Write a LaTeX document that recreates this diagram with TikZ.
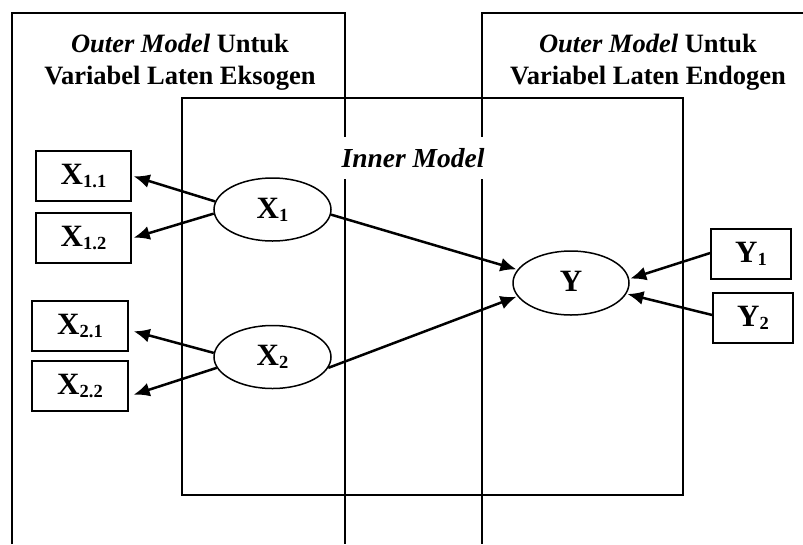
\documentclass[tikz,border=0pt]{standalone}
\usepackage{fontspec}
\setmainfont{Liberation Serif}
\usetikzlibrary{arrows.meta,shapes.geometric}
\newcommand\mylab[2]{{\fontsize{31}{31}\selectfont\bfseries #1\raisebox{-3pt}{\fontsize{18.5}{18.5}\selectfont #2}}}
\tikzset{
  frame/.style={line width=1.7pt},
  obs/.style={draw, line width=1.5pt, rectangle, minimum height=50pt, inner sep=0pt},
  lat/.style={draw, line width=1.5pt, ellipse, minimum width=117pt, minimum height=63pt, inner sep=0pt},
  arr/.style={line width=2.5pt, -{Latex[length=16pt,width=14pt]}, shorten >=1pt},
  title/.style={align=center, font=\fontsize{26.5}{31.5}\selectfont\bfseries},
}
\begin{document}
\begin{tikzpicture}[x=1pt,y=-1pt]
\useasboundingbox (0,0) rectangle (803,544);
% frames
\draw[frame] (12,544) -- (12,13) -- (345,13) -- (345,544);
\draw[frame] (803,13) -- (482,13) -- (482,544);
\draw[frame] (182,98) rectangle (683,495);
% titles
\node[title] (tl) at (180,62) {\textit{Outer Model} Untuk\\Variabel Laten Eksogen};
\node[title] (tr) at (648,62) {\textit{Outer Model} Untuk\\Variabel Laten Endogen};
\node[fill=white, minimum width=141pt, minimum height=42pt, inner sep=0pt,
      font=\fontsize{27.5}{30}\selectfont\bfseries\itshape] (inner) at (413,158) {Inner Model};
% indicators
\node[obs, minimum width=95pt] (x11) at (83.5,176) {\mylab{X}{1.1}};
\node[obs, minimum width=95pt] (x12) at (83.5,238) {\mylab{X}{1.2}};
\node[obs, minimum width=96pt] (x21) at (80,326) {\mylab{X}{2.1}};
\node[obs, minimum width=96pt] (x22) at (80,386) {\mylab{X}{2.2}};
\node[obs, minimum width=80pt] (y1) at (751,254) {\mylab{Y}{1}};
\node[obs, minimum width=80pt] (y2) at (753,318) {\mylab{Y}{2}};
% latent
\node[lat] (X1) at (272.5,209.5) {\mylab{X}{1}};
\node[lat] (X2) at (272.5,357) {\mylab{X}{2}};
\node[lat, minimum width=116pt, minimum height=64pt] (Y) at (571,283) {\mylab{Y}{}};
% arrows
\draw[arr] (X1.172) -- ([xshift=1pt]x11.east);
\draw[arr] (X1.184) -- ([xshift=1pt]x12.east);
\draw[arr] (X2.176) -- ([xshift=4pt,yshift=-5pt]x21.east);
\draw[arr] (X2.191) -- ([xshift=4pt,yshift=-9pt]x22.east);
\draw[arr] (X1.355) -- (Y.166);
\draw[arr] (X2.349) -- (Y.194);
\draw[arr] ([yshift=1pt]y1.west) -- (Y.4);
\draw[arr] ([yshift=3pt]y2.west) -- (Y.349);
\end{tikzpicture}
\end{document}
